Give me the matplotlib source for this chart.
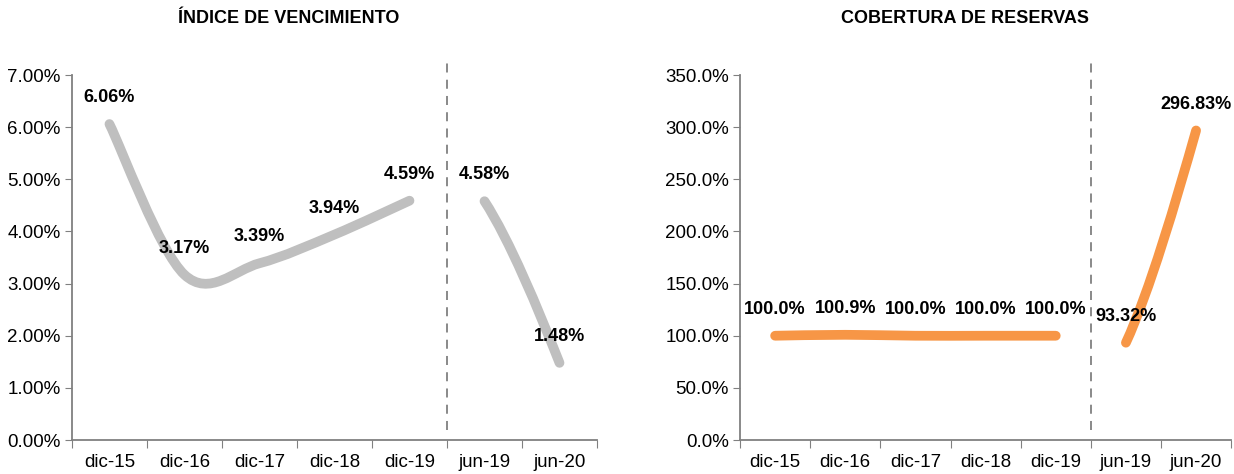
import numpy as np
import matplotlib.pyplot as plt
from matplotlib.path import Path
from matplotlib.patches import PathPatch

plt.rcParams['font.family'] = ['Liberation Sans', 'DejaVu Sans']

# datos
categorias = ['dic-15', 'dic-16', 'dic-17', 'dic-18', 'dic-19', 'jun-19', 'jun-20']
vencimiento_dic = [6.06, 3.17, 3.39, 3.94, 4.59]
vencimiento_jun = [4.58, 1.48]
cobertura_dic = [100.0, 100.9, 100.0, 100.0, 100.0]
cobertura_jun = [93.32, 296.83]

GRIS = '#BFBFBF'
NARANJA = '#F79646'
EJE = '#808080'


def curva_suave(xs, ys):
    # bezier tipo Excel (catmull-rom)
    n = len(xs)
    verts = [(xs[0], ys[0])]
    codes = [Path.MOVETO]
    for i in range(n - 1):
        if n == 2:
            dx, dy = xs[1] - xs[0], ys[1] - ys[0]
            c1 = (xs[0] + dx / 3, ys[0] + dy / 4.2)
            c2 = (xs[1] - dx / 3.5, ys[1] - dy / 3)
        else:
            a = max(i - 1, 0)
            b = min(i + 2, n - 1)
            c1 = (xs[i] + (xs[i + 1] - xs[a]) / 6, ys[i] + (ys[i + 1] - ys[a]) / 6)
            c2 = (xs[i + 1] - (xs[b] - xs[i]) / 6, ys[i + 1] - (ys[b] - ys[i]) / 6)
        verts += [c1, c2, (xs[i + 1], ys[i + 1])]
        codes += [Path.CURVE4] * 3
    return Path(verts, codes)


def panel(ax, serie1, serie2, color, ymax, paso, fmt_eje, fmt1, fmt2):
    x1 = np.arange(len(serie1))
    x2 = np.arange(len(serie1), len(serie1) + len(serie2))
    for xs, ys in ((x1, serie1), (x2, serie2)):
        p = PathPatch(curva_suave(list(xs), list(ys)), fill=False, edgecolor=color,
                      lw=7, capstyle='round', joinstyle='round')
        ax.add_patch(p)
    for xs, ys, f in ((x1, serie1, fmt1), (x2, serie2, fmt2)):
        for x, y in zip(xs, ys):
            ax.annotate(f.format(y), (x, y), xytext=(0, 19), textcoords='offset points',
                        ha='center', va='center', fontsize=13, fontweight='bold')
    ax.set_xlim(-0.5, len(categorias) - 0.5)
    ax.set_ylim(0, ymax)
    ax.set_yticks(np.arange(0, ymax + paso / 2, paso))
    ax.set_yticklabels([fmt_eje.format(v) for v in np.arange(0, ymax + paso / 2, paso)])
    ax.set_xticks(np.arange(-0.5, len(categorias), 1))
    ax.set_xticklabels([])
    ax.set_xticks(np.arange(len(categorias)), minor=True)
    ax.set_xticklabels(categorias, minor=True)
    ax.tick_params(axis='x', which='minor', length=0, pad=10, labelsize=13.5)
    ax.tick_params(axis='x', which='major', length=6, color=EJE, direction='out')
    ax.tick_params(axis='y', length=5, color=EJE, labelsize=13.5, pad=3)
    for s in ('top', 'right'):
        ax.spines[s].set_visible(False)
    for s in ('left', 'bottom'):
        ax.spines[s].set_color(EJE)
        ax.spines[s].set_linewidth(1.3)
    ax.plot([4.5, 4.5], [0.027, 1.045], transform=ax.get_xaxis_transform(),
            color=EJE, lw=1.3, ls=(0, (5, 4)), clip_on=False)


fig = plt.figure(figsize=(12.34, 4.74), dpi=100)
ax1 = fig.add_axes([0.0583, 0.0717, 0.4255, 0.770])
ax2 = fig.add_axes([0.5997, 0.0717, 0.398, 0.770])

panel(ax1, vencimiento_dic, vencimiento_jun, GRIS, 7.0, 1.0, '{:.2f}%', '{:.2f}%', '{:.2f}%')
panel(ax2, cobertura_dic, cobertura_jun, NARANJA, 350.0, 50.0, '{:.1f}%', '{:.1f}%', '{:.2f}%')

fig.text(0.234, 0.962, 'ÍNDICE DE VENCIMIENTO', ha='center', va='center',
         fontsize=13, fontweight='bold')
fig.text(0.782, 0.962, 'COBERTURA DE RESERVAS', ha='center', va='center',
         fontsize=13, fontweight='bold')

fig.savefig('out.png', dpi=100)
